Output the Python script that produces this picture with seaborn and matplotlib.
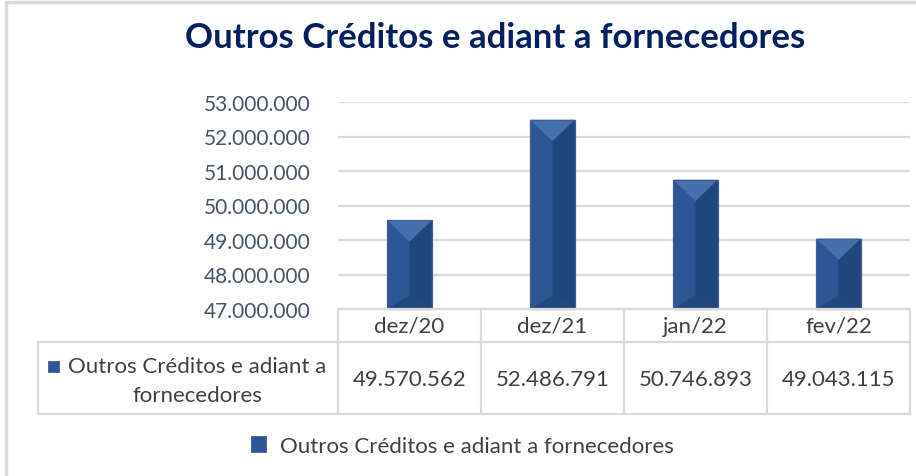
import pandas as pd
import matplotlib.pyplot as plt
import seaborn as sns
from matplotlib.patches import Polygon, Rectangle
from matplotlib.lines import Line2D
from matplotlib.ticker import FuncFormatter, MultipleLocator
import matplotlib.transforms as mtransforms

# Data
periodos = ["dez/20", "dez/21", "jan/22", "fev/22"]
valores = [49570562, 52486791, 50746893, 49043115]
serie = "Outros Créditos e adiant a fornecedores"
titulo = "Outros Créditos e adiant a fornecedores"

df = pd.DataFrame({"periodo": periodos, "valor": valores})

sns.set_style("white")
plt.rcParams["font.family"] = ["Lato", "DejaVu Sans"]

W, H = 916, 477
fig = plt.figure(figsize=(W / 100, H / 100), dpi=100)


def fx(px):
    return px / W


def fy(py):
    return 1 - py / H


# plot area in pixel positions
ax = fig.add_axes([fx(338), fy(310), fx(910) - fx(338), fy(103) - fy(310)])

bar_left = "#2b5797"
bar_top = "#4470ad"
bar_right = "#1f467e"
bar_bottom = "#22497f"
edge = "#3d5f92"

sns.barplot(data=df, x="periodo", y="valor", color=bar_left, width=0.31,
            saturation=1, ax=ax, zorder=3)

ymin, ymax = 47_000_000, 53_000_000
ax.set_ylim(ymin, ymax)
ax.set_xlim(-0.5, len(periodos) - 0.5)
ax.yaxis.set_major_locator(MultipleLocator(1_000_000))
ax.yaxis.set_major_formatter(FuncFormatter(lambda v, p: f"{v:,.0f}".replace(",", ".")))
ax.tick_params(axis="y", labelsize=15, labelcolor="#44546a", length=0, pad=20)
ax.set_xticks([])
ax.set_xlabel("")
ax.set_ylabel("")
ax.grid(axis="y", color="#d9d9d9", linewidth=1.6, zorder=0)
for s in ax.spines.values():
    s.set_visible(False)

# bevel faces on each bar
d_top = 620_000
d_bot = 400_000
for p in list(ax.patches):
    x0 = p.get_x()
    w = p.get_width()
    top = p.get_height()
    bot = ymin
    xc = x0 + w / 2
    x1 = x0 + w
    p.set_edgecolor("none")
    faces = [
        ([(x1, top), (xc, top - d_top), (xc, bot + d_bot), (x1, bot)], bar_right),
        ([(x0, bot), (x1, bot), (xc, bot + d_bot)], bar_bottom),
        ([(x0, top), (x1, top), (xc, top - d_top)], bar_top),
    ]
    for pts, c in faces:
        ax.add_patch(Polygon(pts, closed=True, facecolor=c, edgecolor="none",
                             zorder=3.5, clip_on=False))
    ax.add_patch(Rectangle((x0, bot), w, top - bot, facecolor="none",
                           edgecolor=edge, linewidth=0.9, zorder=4, clip_on=False))

# title
fig.text(fx(495), fy(38), titulo, ha="center", va="center", fontsize=25,
         fontweight="bold", color="#002060")

# outer frame
fig.add_artist(Line2D([fx(6), 1], [fy(3), fy(3)], color="#d9d9d9", linewidth=2.5))
fig.add_artist(Line2D([fx(6), fx(6)], [fy(3), 0], color="#d9d9d9", linewidth=2.5))

# data table
blend = mtransforms.blended_transform_factory(ax.transData, fig.transFigure)
grid_c = "#d9d9d9"
txt_c = "#404040"
bounds = [i - 0.5 for i in range(len(periodos) + 1)]

for b in bounds:
    fig.add_artist(Line2D([b, b], [fy(310), fy(415)], color=grid_c, linewidth=1.6,
                          transform=blend))
fig.add_artist(Line2D([bounds[0], bounds[-1]], [fy(310), fy(310)], color=grid_c,
                      linewidth=1.6, transform=blend))
fig.add_artist(Line2D([fx(38), fx(910)], [fy(343), fy(343)], color=grid_c, linewidth=1.6))
fig.add_artist(Line2D([fx(38), fx(910)], [fy(415), fy(415)], color=grid_c, linewidth=1.6))
fig.add_artist(Line2D([fx(38), fx(38)], [fy(343), fy(415)], color=grid_c, linewidth=1.6))

for i, (per, val) in enumerate(zip(periodos, valores)):
    fig.text(i, fy(327), per, transform=blend, ha="center", va="center",
             fontsize=16, color=txt_c)
    fig.text(i, fy(380), f"{val:,.0f}".replace(",", "."), transform=blend,
             ha="center", va="center", fontsize=16, color=txt_c)

fig.add_artist(Rectangle((fx(48), fy(373)), fx(11), fy(362) - fy(373),
                         facecolor=bar_left, edgecolor=edge, linewidth=0.6))
fig.text(fx(197), fy(367), "Outros Créditos e adiant a", ha="center", va="center",
         fontsize=16, color=txt_c)
fig.text(fx(197), fy(396), "fornecedores", ha="center", va="center",
         fontsize=16, color=txt_c)

# legend
handle = Rectangle((0, 0), 1, 1, facecolor=bar_left, edgecolor=edge, linewidth=0.6)
fig.legend(handles=[handle], labels=[serie], loc="center",
           bbox_to_anchor=(fx(462), fy(447)), frameon=False, fontsize=16,
           handlelength=0.7, handleheight=0.7, handletextpad=0.6,
           labelcolor=txt_c)

fig.savefig("out.png", dpi=100)
